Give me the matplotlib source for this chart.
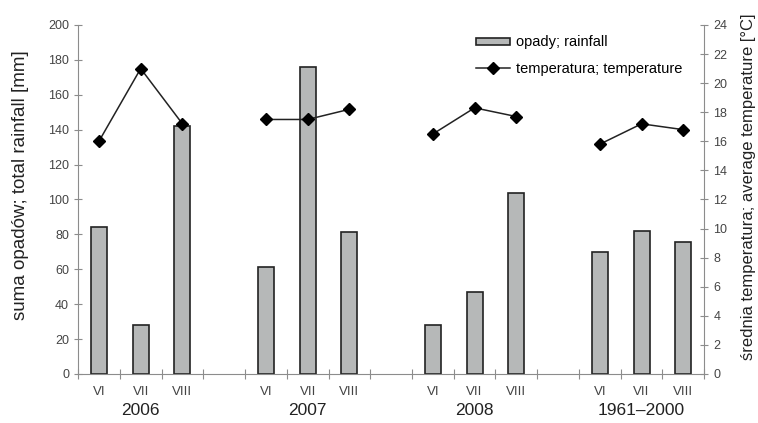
import numpy as np
import matplotlib.pyplot as plt
from matplotlib.transforms import blended_transform_factory

plt.rcParams['font.family'] = ['Liberation Sans', 'DejaVu Sans']

groups = ['2006', '2007', '2008', '1961–2000']
months = ['VI', 'VII', 'VIII']
rainfall = [[84, 28, 142], [61, 176, 81.5], [28, 47, 103.5], [70, 82, 75.5]]
temperature = [[16.0, 21.0, 17.2], [17.5, 17.5, 18.2], [16.5, 18.3, 17.7], [15.8, 17.2, 16.8]]

axis_grey = '#8c8c8c'

fig = plt.figure(figsize=(7.58, 4.23), dpi=100)
ax = fig.add_axes([0.103, 0.116, 0.826, 0.825])
ax2 = ax.twinx()

centers = []
for g in range(len(groups)):
    xs = np.arange(3) + 4 * g
    centers.extend(xs)
    ax.bar(xs, rainfall[g], width=0.38, color='#b6b8b8', edgecolor='#222222',
           linewidth=1.2, label='opady; rainfall' if g == 0 else None)
    ax2.plot(xs, temperature[g], color='#222222', lw=1.1, marker='D', ms=6,
             mfc='black', mec='black', label='temperatura; temperature' if g == 0 else None)
    ax.text(xs[1], -0.105, groups[g], transform=blended_transform_factory(ax.transData, ax.transAxes),
            ha='center', va='center', fontsize=12.5, color='#222222')

ax.set_xlim(-0.5, 14.5)
ax.set_ylim(0, 200)
ax2.set_ylim(0, 24)
ax.set_yticks(np.arange(0, 201, 20))
ax2.set_yticks(np.arange(0, 25, 2))

ax.set_xticks(np.arange(-0.5, 14.6, 1))
ax.set_xticklabels([])
ax.set_xticks(centers, minor=True)
ax.set_xticklabels(months * 4, minor=True)
ax.tick_params(axis='x', which='major', direction='inout', length=7, color=axis_grey)
ax.tick_params(axis='x', which='minor', length=0, pad=9, labelsize=9.5, labelcolor='#444444')
ax.tick_params(axis='y', direction='inout', length=6, color=axis_grey, labelsize=9, labelcolor='#444444')
ax2.tick_params(axis='y', direction='inout', length=6, color=axis_grey, labelsize=9, labelcolor='#444444')

for a in (ax, ax2):
    a.spines['top'].set_visible(False)
    for s in ('left', 'right', 'bottom'):
        a.spines[s].set_color(axis_grey)
ax.spines['right'].set_visible(False)
ax2.spines['left'].set_visible(False)
ax2.spines['bottom'].set_visible(False)

ax.set_ylabel('suma opadów; total rainfall [mm]', fontsize=13.5, color='#222222')
ax.yaxis.set_label_coords(-0.079, 0.54)
ax2.set_ylabel('średnia temperatura; average temperature [°C]', fontsize=12, color='#222222')
ax2.yaxis.set_label_coords(1.059, 0.537)

h1, l1 = ax.get_legend_handles_labels()
h2, l2 = ax2.get_legend_handles_labels()
ax2.legend(h1 + h2, l1 + l2, loc='upper left', bbox_to_anchor=(0.636, 0.97), frameon=False,
           fontsize=10.5, handlelength=2.3, handleheight=0.35, handletextpad=0.45,
           labelspacing=0.85, borderpad=0, borderaxespad=0)

fig.savefig('out.png', dpi=100)
